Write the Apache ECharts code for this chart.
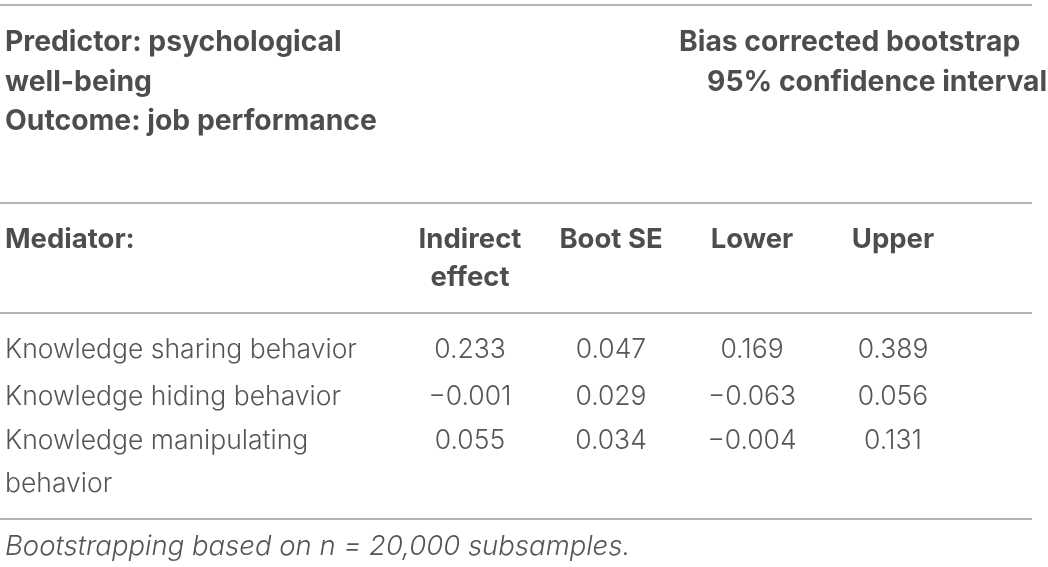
<!DOCTYPE html>
<html>
<head>
<meta charset="utf-8">
<script src="https://cdn.jsdelivr.net/npm/echarts@6/dist/echarts.min.js"></script>
<style>
  html, body { margin: 0; padding: 0; background: #fff; }
  #chart { width: 1048px; height: 567px; }
</style>
</head>
<body>
<div id="chart"></div>
<script>
// 表格数据
const titleLeft = ['Predictor: psychological', 'well-being', 'Outcome: job performance'];
const titleRight = ['Bias corrected bootstrap', '95% confidence interval'];
const headers = ['Mediator:', 'Indirect\neffect', 'Boot SE', 'Lower', 'Upper'];
const mediators = ['Knowledge sharing behavior', 'Knowledge hiding behavior', 'Knowledge manipulating\nbehavior'];
const indirect = [0.233, -0.001, 0.055];
const bootSE = [0.047, 0.029, 0.034];
const lower = [0.169, -0.063, -0.004];
const upper = [0.389, 0.056, 0.131];
const footnote = 'Bootstrapping based on n = 20,000 subsamples.';

// 版式（像素坐标）
const colX = [5, 470, 611, 752, 893];
const rowY = [350, 397, 441];
const titleY = [42, 82, 121];
const titleRightX = [679, 707];
const headerY = 240;
const footY = 547;
const ruleY = [5, 203, 313, 519];
const ruleEnd = 1032;

const FONT = 'Inter, "Liberation Sans", sans-serif';
const DARK = '#231f20';

function fmt(v) {
    return v.toFixed(3).replace('-', '\u2212');
}

function textPoint(x, y, text, style) {
    return {
        value: [x, y],
        label: Object.assign({
            show: true,
            position: 'inside',
            formatter: text,
            fontFamily: FONT,
            color: DARK,
            verticalAlign: 'middle'
        }, style)
    };
}

const title = { fontWeight: 'bold', fontSize: 28.3 };
const bold = { fontWeight: 'bold', fontSize: 27.5 };
const body = { fontWeight: 300, fontSize: 26.5, color: '#2a2a2a', lineHeight: 43 };

const points = [];
titleLeft.forEach((t, i) => points.push(textPoint(colX[0], titleY[i], t, Object.assign({ align: 'left' }, title))));
titleRight.forEach((t, i) => points.push(textPoint(titleRightX[i], titleY[i], t, Object.assign({ align: 'left' }, title))));

headers.forEach((h, i) => {
    const multi = h.indexOf('\n') >= 0;
    points.push(textPoint(colX[i], multi ? headerY + 19 : headerY, h,
        Object.assign({ align: i === 0 ? 'left' : 'center', lineHeight: 38 }, bold)));
});

mediators.forEach((m, r) => {
    const multi = m.indexOf('\n') >= 0;
    points.push(textPoint(colX[0], multi ? rowY[r] + 21.5 : rowY[r], m, Object.assign({ align: 'left' }, body)));
    [indirect, bootSE, lower, upper].forEach((col, c) => {
        points.push(textPoint(colX[c + 1], rowY[r], fmt(col[r]), Object.assign({ align: 'center' }, body)));
    });
});

points.push(textPoint(colX[0], footY, footnote, Object.assign({ align: 'left' }, body, { fontStyle: 'italic', fontSize: 27.5 })));

const rules = ruleY.map(y => ({
    type: 'line',
    data: [[0, y], [ruleEnd, y]],
    symbol: 'none',
    silent: true,
    lineStyle: { color: '#9d9d9d', width: 1.5 }
}));

const chart = echarts.init(document.getElementById('chart'), null, { renderer: 'canvas' });
chart.setOption({
    animation: false,
    grid: { left: 0, right: 0, top: 0, bottom: 0 },
    xAxis: { type: 'value', min: 0, max: 1048, show: false },
    yAxis: { type: 'value', min: 0, max: 567, inverse: true, show: false },
    series: rules.concat([{
        type: 'scatter',
        symbolSize: 0,
        silent: true,
        data: points
    }])
});
</script>
</body>
</html>
